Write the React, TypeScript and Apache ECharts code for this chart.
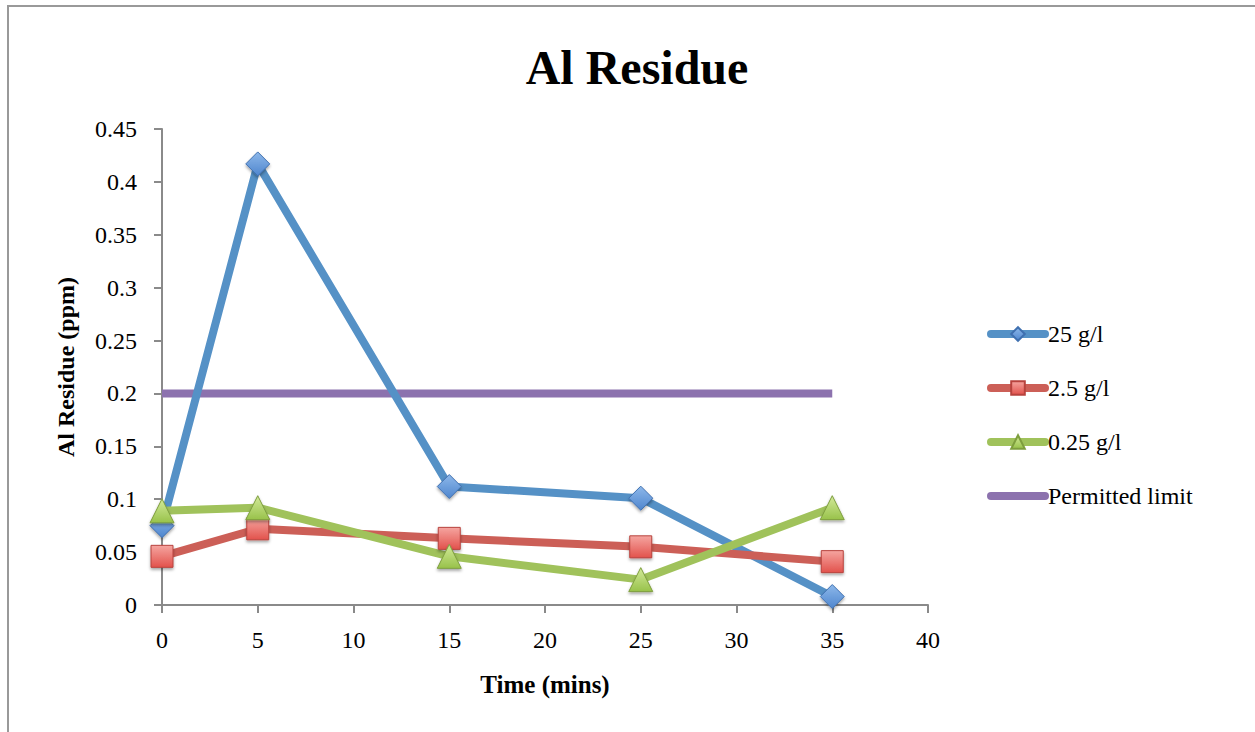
import React, { useEffect, useRef } from "react";
import * as echarts from "echarts";

const times = [0, 5, 15, 25, 35];
const s25 = [0.075, 0.417, 0.112, 0.101, 0.008];
const s2_5 = [0.046, 0.072, 0.063, 0.055, 0.041];
const s0_25 = [0.089, 0.092, 0.046, 0.024, 0.092];
const limitTimes = [0, 35];
const limitValues = [0.2, 0.2];
const seriesNames = ["25 g/l", "2.5 g/l", "0.25 g/l", "Permitted limit"];

const FONT = "Liberation Serif";

function grad(top: string, bottom: string) {
  return new echarts.graphic.LinearGradient(0, 0, 0, 1, [
    { offset: 0, color: top },
    { offset: 1, color: bottom },
  ]);
}

export default function App() {
  const ref = useRef<HTMLDivElement>(null);
  useEffect(() => {
    const chart = echarts.init(ref.current!, null, { renderer: "svg" });
    const pair = (xs: number[], ys: number[]) => xs.map((x, i) => [x, ys[i]]);
    const mk = (name: string, data: number[], symbol: string, line: string, top: string, bottom: string, border: string, size: number) => ({
      name,
      type: "line",
      data: pair(times, data),
      symbol,
      symbolSize: size,
      showSymbol: true,
      lineStyle: { color: line, width: 8 },
      itemStyle: {
        color: grad(top, bottom),
        borderColor: border,
        borderWidth: 1,
        shadowColor: "rgba(0,0,0,0.35)",
        shadowBlur: 3,
        shadowOffsetY: 2,
      },
      z: 3,
    });
    chart.setOption({
      animation: false,
      backgroundColor: "#ffffff",
      title: {
        text: "Al Residue",
        left: 632,
        textAlign: "center",
        top: 38,
        textStyle: { fontFamily: FONT, fontSize: 48, fontWeight: "bold", color: "#000" },
      },
      graphic: [
        {
          type: "rect",
          shape: { x: 8, y: 6, width: 1400, height: 900 },
          style: { fill: "none", stroke: "#999999", lineWidth: 2 },
          silent: true,
        },
      ],
      legend: {
        orient: "vertical",
        left: 987,
        top: 322,
        padding: 0,
        itemWidth: 54,
        itemHeight: 17,
        itemGap: 30,
        lineStyle: { width: 8, cap: "round" },
        textStyle: { fontFamily: FONT, fontSize: 24, color: "#000", padding: [0, 0, 0, -2] },
        data: [
          { name: seriesNames[0] },
          { name: seriesNames[1] },
          { name: seriesNames[2] },
          { name: seriesNames[3], itemStyle: { opacity: 0 } },
        ],
      },
      grid: { left: 162, top: 129, right: 327, bottom: 127, containLabel: false },
      xAxis: {
        type: "value",
        min: 0,
        max: 40,
        interval: 5,
        name: "Time (mins)",
        nameLocation: "middle",
        nameGap: 67,
        nameTextStyle: { fontFamily: FONT, fontSize: 25, fontWeight: "bold", color: "#000" },
        axisLine: { show: true, lineStyle: { color: "#8a8a8a", width: 2 } },
        axisTick: { show: true, length: 8, lineStyle: { color: "#8a8a8a", width: 2 } },
        axisLabel: { fontFamily: FONT, fontSize: 24, color: "#000", margin: 23 },
        splitLine: { show: false },
      },
      yAxis: {
        type: "value",
        min: 0,
        max: 0.45,
        interval: 0.05,
        name: "Al Residue (ppm)",
        nameLocation: "middle",
        nameGap: 84,
        nameTextStyle: { fontFamily: FONT, fontSize: 24, fontWeight: "bold", color: "#000" },
        axisLine: { show: true, lineStyle: { color: "#8a8a8a", width: 2 } },
        axisTick: { show: true, length: 8, lineStyle: { color: "#8a8a8a", width: 2 } },
        axisLabel: { fontFamily: FONT, fontSize: 24, color: "#000", margin: 25 },
        splitLine: { show: false },
      },
      series: [
        {
          name: "Permitted limit",
          type: "line",
          data: pair(limitTimes, limitValues),
          symbol: "none",
          lineStyle: { color: "#8C72AE", width: 8 },
          itemStyle: { color: "#8C72AE" },
          z: 2,
        },
        mk("25 g/l", s25, "diamond", "#5591C6", "#8DB8EA", "#4F86CE", "#3F70B0", 24),
        mk("2.5 g/l", s2_5, "rect", "#CC5F57", "#F5A5A0", "#E2524C", "#B8433E", 22),
        mk("0.25 g/l", s0_25, "triangle", "#A0C25B", "#D3EA9A", "#98C24A", "#7E9E3E", 24),
      ],
    });
    return () => chart.dispose();
  }, []);
  return (
    <div
      ref={ref}
      style={{ position: "fixed", left: 0, top: 0, width: 1255, height: 732 }}
    />
  );
}
